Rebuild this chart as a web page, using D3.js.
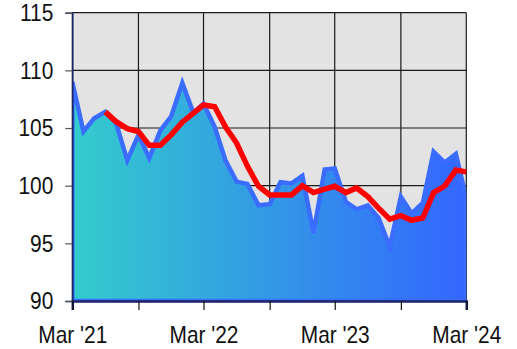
<!DOCTYPE html>
<html>
<head>
<meta charset="utf-8">
<script src="https://cdn.jsdelivr.net/npm/d3@7"></script>
<style>
  html, body { margin: 0; padding: 0; background: #ffffff; }
  svg { display: block; }
  text { font-family: "Liberation Sans", Arial, sans-serif; }
</style>
</head>
<body>
<svg id="chart" width="517" height="349"></svg>
<script>
// ---- data ----
const months = [
  "2021-03","2021-04","2021-05","2021-06","2021-07","2021-08","2021-09","2021-10","2021-11","2021-12",
  "2022-01","2022-02","2022-03","2022-04","2022-05","2022-06","2022-07","2022-08","2022-09","2022-10",
  "2022-11","2022-12","2023-01","2023-02","2023-03","2023-04","2023-05","2023-06","2023-07","2023-08",
  "2023-09","2023-10","2023-11","2023-12","2024-01","2024-02","2024-03"
];
const indexValues = [
  109.0, 104.7, 105.85, 106.4, 105.4, 102.2, 104.4, 102.4, 104.8, 106.0,
  108.9, 106.3, 107.1, 105.1, 102.2, 100.35, 100.15, 98.3, 98.4, 100.3,
  100.2, 100.85, 95.9, 101.4, 101.5, 98.6, 97.95, 98.3, 97.2, 94.7,
  99.05, 97.6, 98.5, 102.95, 102.0, 102.75, 98.9
];
const avgMonths = months.slice(3);
const avgValues = [
  106.4, 105.55, 104.95, 104.7, 103.5, 103.5, 104.4, 105.5, 106.3, 107.0,
  106.85, 105.1, 103.7, 101.7, 99.95, 99.2, 99.2, 99.2, 100.0, 99.4,
  99.7, 99.95, 99.4, 99.8, 99.05, 98.05, 97.1, 97.4, 97.0, 97.2,
  99.4, 99.97, 101.35, 101.2
];
const yTicks = [90, 95, 100, 105, 110, 115];
const xGridMonths = ["2021-03","2021-09","2022-03","2022-09","2023-03","2023-09","2024-03"];
const xLabelMonths = ["2021-03","2022-03","2023-03","2024-03"];
const xLabelText = ["Mar '21","Mar '22","Mar '23","Mar '24"];

// ---- layout ----
const W = 517, H = 349;
const m = { top: 12.7, right: 50.7, bottom: 48, left: 72.3 };
const iw = W - m.left - m.right, ih = H - m.top - m.bottom;
const parse = d3.timeParse("%Y-%m");
const fmt = d3.timeFormat("%Y-%m");
const narrow = 0.87;

const x = d3.scaleTime()
  .domain([parse(months[0]), parse(months[months.length - 1])])
  .range([0, iw]);
const y = d3.scaleLinear().domain([90, 115]).range([ih, 0]);

const svg = d3.select("#chart");
const defs = svg.append("defs");
const grad = defs.append("linearGradient")
  .attr("id", "fillGrad")
  .attr("gradientUnits", "userSpaceOnUse")
  .attr("x1", 0).attr("y1", 0).attr("x2", iw).attr("y2", 0);
grad.append("stop").attr("offset", "0%").attr("stop-color", "#33cccc");
grad.append("stop").attr("offset", "100%").attr("stop-color", "#3366ff");
defs.append("clipPath").attr("id", "plotClip")
  .append("rect").attr("x", 0).attr("y", 0).attr("width", iw).attr("height", ih);

const g = svg.append("g").attr("transform", `translate(${m.left},${m.top})`);

// background
g.append("rect").attr("width", iw).attr("height", ih).attr("fill", "#e3e3e3");

// grid lines
g.append("g").selectAll("line").data(yTicks).join("line")
  .attr("x1", 0).attr("x2", iw)
  .attr("y1", d => y(d)).attr("y2", d => y(d))
  .attr("stroke", "#1a1a1a").attr("stroke-width", 1.2);
g.append("g").selectAll("line").data(xGridMonths).join("line")
  .attr("x1", d => x(parse(d))).attr("x2", d => x(parse(d)))
  .attr("y1", 0).attr("y2", ih)
  .attr("stroke", "#1a1a1a").attr("stroke-width", 1.2);

// area
const area = d3.area()
  .x((d, i) => x(parse(months[i])))
  .y0(y(90))
  .y1(d => y(d));
g.append("path")
  .datum(indexValues)
  .attr("clip-path", "url(#plotClip)")
  .attr("d", area)
  .attr("fill", "url(#fillGrad)")
  .attr("stroke", "#3a6cff")
  .attr("stroke-width", 4.5)
  .attr("stroke-linejoin", "miter");

// moving average line
const line = d3.line()
  .x((d, i) => x(parse(avgMonths[i])))
  .y(d => y(d));
g.append("path")
  .datum(avgValues)
  .attr("d", line)
  .attr("fill", "none")
  .attr("stroke", "#ff0000")
  .attr("stroke-width", 5.5)
  .attr("stroke-linejoin", "miter")
  .attr("stroke-linecap", "butt");

// y axis
const yAxis = g.append("g")
  .call(d3.axisLeft(y).tickValues(yTicks).tickSize(7).tickPadding(12).tickFormat(d3.format("d")));
yAxis.select(".domain").attr("stroke", "#1a2466").attr("stroke-width", 1.5);
yAxis.selectAll(".tick line").attr("stroke", "#555").attr("stroke-width", 1.2);
yAxis.selectAll("text")
  .attr("font-size", 24).attr("fill", "#111")
  .attr("font-family", "'Liberation Sans', Arial, sans-serif")
  .attr("transform", function () {
    const tx = +d3.select(this).attr("x");
    return `translate(${tx},0) scale(${narrow},1)`;
  })
  .attr("x", 0);

// x axis
const xAxis = g.append("g").attr("transform", `translate(0,${ih})`)
  .call(d3.axisBottom(x)
    .tickValues(xGridMonths.map(parse))
    .tickSize(9)
    .tickPadding(16)
    .tickFormat(d => {
      const k = xLabelMonths.indexOf(fmt(d));
      return k >= 0 ? xLabelText[k] : "";
    }));
xAxis.select(".domain").attr("stroke", "#1a2466").attr("stroke-width", 2.5);
xAxis.selectAll(".tick line").attr("stroke", "#111").attr("stroke-width", 1.2);
xAxis.selectAll("text")
  .attr("font-size", 24).attr("fill", "#111")
  .attr("font-family", "'Liberation Sans', Arial, sans-serif")
  .attr("transform", `scale(${narrow},1)`);
</script>
</body>
</html>
